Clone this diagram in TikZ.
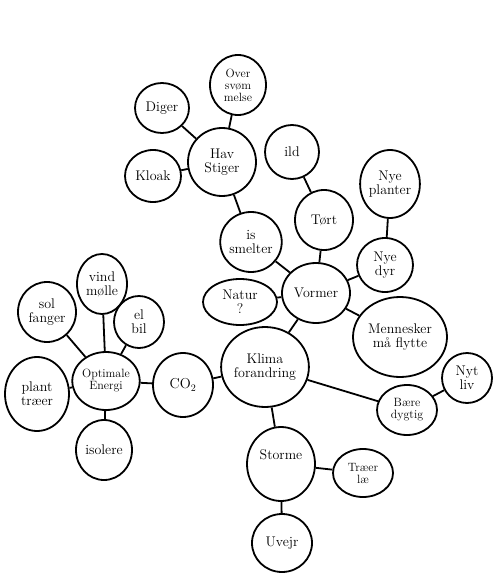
\documentclass[tikz,border=0pt]{standalone}
\usepackage{tikz}
\usetikzlibrary{shapes.geometric}

\begin{document}
\begin{tikzpicture}[x=1pt,y=-1pt,line width=1.8pt,
  boble/.style={draw,ellipse,inner sep=0pt,align=center,font=\fontsize{14}{14}\selectfont},
  lille/.style={font=\fontsize{12}{12}\selectfont}]
\useasboundingbox (0,0) rectangle (500,580);
% midten
\node[boble,minimum width=80,minimum height=80] (klima) at (265,367) {Klima\\forandring};
\node[boble,minimum width=68,minimum height=60] (vormer) at (316,293) {Vormer};
\node[boble,minimum width=60,minimum height=64] (co2) at (183,385) {\Large CO$_2$};
\node[boble,minimum width=68,minimum height=74] (storme) at (281,464) {Storme\\[4pt]};
% havet
\node[boble,minimum width=68,minimum height=68] (hav) at (222,162) {Hav\\Stiger};
\node[boble,minimum width=54,minimum height=50] (diger) at (162,108) {Diger};
\node[boble,lille,minimum width=56,minimum height=60] (over) at (238,85) {Over\\svøm\\melse};
\node[boble,minimum width=56,minimum height=52] (kloak) at (153,176) {Kloak};
\node[boble,minimum width=56,minimum height=60] (is) at (251,242) {is\\smelter};
% varme
\node[boble,minimum width=54,minimum height=54] (ild) at (292,152) {ild};
\node[boble,minimum width=58,minimum height=60] (tort) at (324,220) {Tørt};
\node[boble,minimum width=54,minimum height=68] (planter) at (390,184) {Nye\\planter};
\node[boble,minimum width=56,minimum height=54] (dyr) at (385,265) {Nye\\dyr};
\node[boble,minimum width=94,minimum height=80] (flytte) at (400,337) {Mennesker\\må flytte};
\node[boble,minimum width=74,minimum height=46] (natur) at (240,302) {Natur\\?};
% klima
\node[boble,lille,minimum width=60,minimum height=50] (baere) at (407,410) {Bære\\dygtig};
\node[boble,minimum width=50,minimum height=50] (nyt) at (467,378) {Nyt\\liv};
\node[boble,lille,minimum width=60,minimum height=48] (traeer) at (363,473) {Træer\\læ};
\node[boble,minimum width=60,minimum height=58] (uvejr) at (282,543) {Uvejr};
% energi
\node[boble,lille,minimum width=62,minimum height=58] (energi) at (106,381) {Optimale\\Energi};
\node[boble,minimum width=64,minimum height=74] (plant) at (37,394) {plant\\træer};
\node[boble,minimum width=56,minimum height=60] (isolere) at (104,450) {isolere};
\node[boble,minimum width=58,minimum height=60] (sol) at (47,312) {sol\\fanger};
\node[boble,minimum width=50,minimum height=60] (vind) at (102,284) {vind\\mølle};
\node[boble,minimum width=50,minimum height=52] (el) at (139,322) {el\\bil};

\draw (hav)--(diger) (hav)--(over) (hav)--(kloak) (hav)--(is);
\draw (is)--(vormer) (tort)--(ild) (tort)--(vormer);
\draw (dyr)--(planter) (dyr)--(vormer);
\draw (vormer)--(natur) (vormer)--(flytte) (vormer)--(klima);
\draw (klima)--(co2) (klima)--(baere) (klima)--(storme);
\draw (baere)--(nyt) (storme)--(traeer) (storme)--(uvejr);
\draw (co2)--(energi);
\foreach \n in {sol,vind,el,plant,isolere}
  \draw (energi)--(\n);
\end{tikzpicture}
\end{document}
